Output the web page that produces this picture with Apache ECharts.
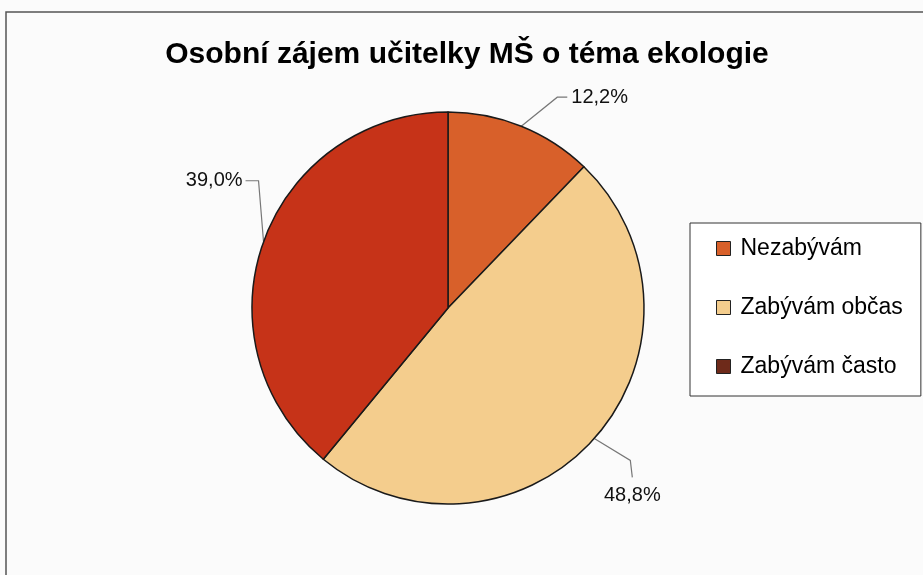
<!DOCTYPE html>
<html>
  <head>
    <meta charset="utf-8">
    <title>Osobní zájem učitelky MŠ o téma ekologie</title>
    <script src="https://cdn.jsdelivr.net/npm/echarts@6/dist/echarts.min.js"></script>
    <style>
      html, body { margin: 0; padding: 0; background: #ffffff; }
    </style>
  </head>
  <body>
    <div id="chart" style="width: 923px; height: 575px;"></div>
    <script type="text/javascript">
      // answers (number of teachers)
      var categories = ['Nezabývám', 'Zabývám občas', 'Zabývám často'];
      var counts = [5, 20, 16];
      var sliceColors = ['#D8602A', '#F4CD8D', '#C63318'];
      var legendColors = ['#D8602A', '#F4CD8D', '#6E2A1A'];

      // Excel-like leader lines: offsets from the point on the slice edge
      // [elbow dx, elbow dy, end dx, end dy, label dx, label dy, align, vAlign]
      var leaders = [
        [36, -29, 10, 0, 4, 0, 'left', 'middle'],
        [36, 22, 2, 17, 0, 8, 'center', 'top'],
        [-5, -61, -13, 0, -3, 0, 'right', 'middle']
      ];

      var chart = echarts.init(document.getElementById('chart'));

      var data = categories.map(function (name, i) {
        return {
          name: name,
          value: counts[i],
          itemStyle: { color: sliceColors[i] }
        };
      });

      chart.setOption({
        backgroundColor: '#FBFBFB',
        animation: false,
        title: {
          text: 'Osobní zájem učitelky MŠ o téma ekologie',
          left: 462,
          top: 35,
          textAlign: 'center',
          textStyle: {
            fontFamily: 'Liberation Sans, Arial, sans-serif',
            fontSize: 30,
            fontWeight: 'bold',
            color: '#000'
          }
        },
        legend: {
          orient: 'vertical',
          left: 690,
          top: 223,
          padding: [14, 18, 18, 26],
          itemGap: 36,
          itemWidth: 14,
          itemHeight: 14,
          icon: 'rect',
          borderColor: '#333',
          borderWidth: 1,
          backgroundColor: '#FFFFFF',
          textStyle: {
            fontFamily: 'Liberation Sans, Arial, sans-serif',
            fontSize: 23,
            color: '#000',
            padding: [0, 0, 0, 5]
          },
          data: categories.map(function (name, i) {
            return {
              name: name,
              itemStyle: { color: legendColors[i], borderColor: '#222', borderWidth: 1 }
            };
          })
        },
        graphic: [{
          type: 'rect',
          shape: { x: 6, y: 12, width: 940, height: 600 },
          style: { fill: 'none', stroke: '#555', lineWidth: 1.5 },
          silent: true,
          z: -1
        }],
        series: [{
          type: 'pie',
          center: [448, 308],
          radius: 196,
          startAngle: 90,
          clockwise: true,
          avoidLabelOverlap: false,
          itemStyle: { borderColor: '#1a1a1a', borderWidth: 1.5 },
          label: {
            show: true,
            position: 'outside',
            fontFamily: 'Liberation Sans, Arial, sans-serif',
            fontSize: 20,
            color: '#111',
            formatter: function (p) {
              return p.percent.toFixed(1).replace('.', ',') + '%';
            }
          },
          labelLine: {
            show: true,
            length: 20,
            length2: 10,
            lineStyle: { color: '#777', width: 1.2 }
          },
          labelLayout: function (params) {
            var l = leaders[params.dataIndex];
            var p0 = params.labelLinePoints[0];
            var p1 = [p0[0] + l[0], p0[1] + l[1]];
            var p2 = [p1[0] + l[2], p1[1] + l[3]];
            return {
              x: p2[0] + l[4],
              y: p2[1] + l[5],
              align: l[6],
              verticalAlign: l[7],
              labelLinePoints: [p0, p1, p2]
            };
          },
          emphasis: { disabled: true },
          data: data
        }]
      });
    </script>
  </body>
</html>
